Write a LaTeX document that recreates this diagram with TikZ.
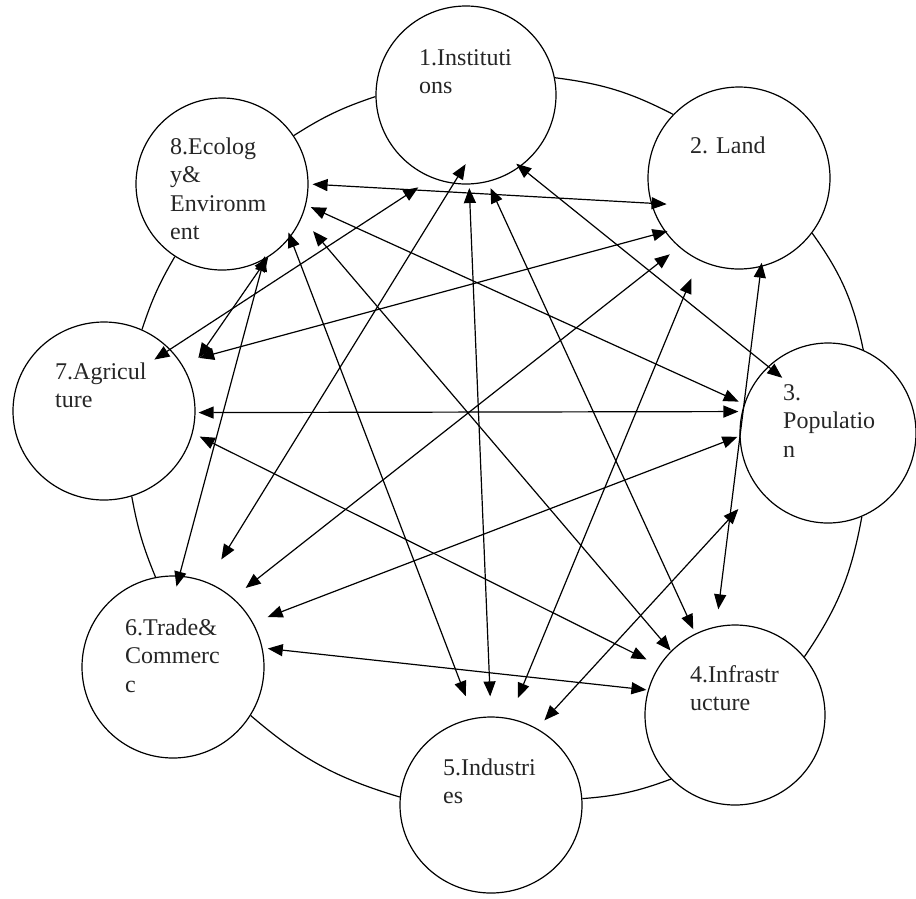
\documentclass[tikz,border=0pt]{standalone}
\usepackage{fontspec}
\setmainfont{Liberation Serif}
\usetikzlibrary{shapes.geometric,arrows.meta}
\frenchspacing
\begin{document}
\begin{tikzpicture}[x=1pt,y=1pt]
\tikzset{sector/.style={draw,ellipse,fill=white,line width=1.2pt,inner sep=0},
    caption/.style={anchor=base west,inner sep=0,text width=110pt,align=left,
        font=\fontsize{24}{28.5}\selectfont,text=black!85},
    ring/.style={line width=1.2pt,bend left=#1},
    link/.style 2 args={line width=1.2pt,
        {Triangle[length=15pt,width=12pt]}-{Triangle[length=15pt,width=12pt]},
        shorten <=#1pt,shorten >=#2pt}}
\useasboundingbox (0,0) rectangle (916,-898);
\node[sector,minimum width=180pt,minimum height=178pt] (n1) at (466,-95) {};
\node[sector,minimum width=182pt,minimum height=182pt] (n2) at (739,-178) {};
\node[sector,minimum width=176pt,minimum height=180pt] (n3) at (828,-433) {};
\node[sector,minimum width=180pt,minimum height=180pt] (n4) at (735,-715) {};
\node[sector,minimum width=182pt,minimum height=176pt] (n5) at (491,-805) {};
\node[sector,minimum width=182pt,minimum height=182pt] (n6) at (173,-667) {};
\node[sector,minimum width=182pt,minimum height=178pt] (n7) at (104,-411) {};
\node[sector,minimum width=172pt,minimum height=172pt] (n8) at (222,-184) {};
\node[caption] (t1) at ([shift={(-47,30)}]n1.center) {1.Instituti\\ons};
\node[caption] (t2) at ([shift={(-49,25)}]n2.center) {2. Land};
\node[caption] (t3) at ([shift={(-45,33)}]n3.center) {3.\\Populatio\\n};
\node[caption] (t4) at ([shift={(-45,33)}]n4.center) {4.Infrastr\\ucture};
\node[caption] (t5) at ([shift={(-48,30)}]n5.center) {5.Industri\\es};
\node[caption] (t6) at ([shift={(-48,32)}]n6.center) {6.Trade\&\\Commerc\\c};
\node[caption] (t7) at ([shift={(-49,32)}]n7.center) {7.Agricul\\ture};
\node[caption] (t8) at ([shift={(-52,30)}]n8.center) {8.Ecolog\\y\&\\Environm\\ent};
\draw[ring=7] (n8.34) to (n1.181);
\draw[ring=10] (n1.11) to (n2.136);
\draw[ring=12] (n2.-37) to (n3.67);
\draw[ring=12] (n3.-68) to (n4.40);
\draw[ring=8] (n4.225) to (n5.4);
\draw[ring=12] (n5.175) to (n6.-32);
\draw[ring=6] (n6.101) to (n7.-72);
\draw[ring=6] (n7.65) to (n8.237);
\draw[link={-5}{-18.3}] (n1.-53.8) -- (n3.132.6);
\draw[link={6.7}{4.8}] (n1.-76.3) -- (n4.116.4);
\draw[link={3.5}{20}] (n1.-88.8) -- (n5.90);
\draw[link={-23}{26.6}] (n1.-98.4) -- (n6.68);
\draw[link={16.8}{-19}] (n1.-112.3) -- (n7.43.8);
\draw[link={-4.2}{17.2}] (n2.-76.9) -- (n4.102.2);
\draw[link={19.6}{21.9}] (n2.-116.6) -- (n5.78.5);
\draw[link={11.6}{16}] (n2.-131.5) -- (n6.49.3);
\draw[link={-2.7}{18.6}] (n2.-144.4) -- (n7.32.3);
\draw[link={-15.7}{4}] (n2.196.8) -- (n8.-0.5);
\draw[link={28.5}{10.9}] (n3.-142.6) -- (n5.59.9);
\draw[link={2.2}{15.6}] (n3.182.1) -- (n6.29.2);
\draw[link={3.5}{3}] (n3.166.4) -- (n7.-1.3);
\draw[link={5.9}{5.3}] (n3.161.9) -- (n8.-14.7);
\draw[link={1.5}{5.2}] (n4.164) -- (n6.12.4);
\draw[link={13.9}{7.7}] (n4.147.2) -- (n7.-14.5);
\draw[link={0.5}{17.5}] (n4.135.9) -- (n8.-23.8);
\draw[link={23.3}{-5.2}] (n5.101.6) -- (n8.-38);
\draw[link={-11.3}{-3.7}] (n6.86.9) -- (n8.-61.5);
\draw[link={19.3}{-0.6}] (n7.24.3) -- (n8.-58.7);
\end{tikzpicture}
\end{document}
